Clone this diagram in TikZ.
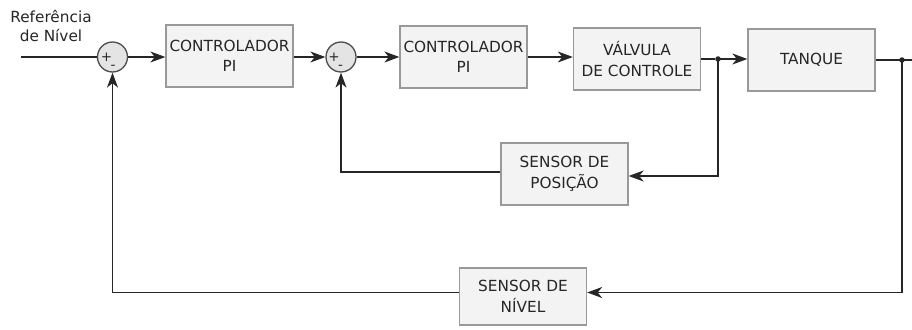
\documentclass[tikz,border=0pt]{standalone}
\usepackage{fontspec}
\setmainfont{DejaVu Sans}
\usetikzlibrary{arrows.meta}
\definecolor{boxfill}{HTML}{F3F3F3}
\definecolor{boxline}{HTML}{999999}
\definecolor{txt}{HTML}{262626}
\definecolor{ln}{HTML}{262626}
\definecolor{sumfill}{HTML}{E4E4E4}
\definecolor{sumline}{HTML}{4D4D4D}
\begin{document}
\begin{tikzpicture}[x=1pt,y=-1pt,
 blk/.style={draw=boxline,fill=boxfill,line width=1.3pt,minimum width=127pt,minimum height=62pt,inner sep=0pt,align=center,text=txt,font=\fontsize{15.3}{20.5}\selectfont},
 sumn/.style={circle,draw=sumline,fill=sumfill,minimum size=30pt,inner sep=0pt,line width=1.3pt},
 sign/.style={text=txt,font=\fontsize{13.5}{13.5}\selectfont,inner sep=0pt},
 wire/.style={draw=ln,line width=1.3pt},
 arr/.style={wire,-{Stealth[length=15pt,width=11pt,inset=4.5pt]}},
 dotn/.style={circle,fill=ln,minimum size=5.5pt,inner sep=0pt}]
\useasboundingbox (0,0) rectangle (912,329);
\node[text=txt,align=center,font=\fontsize{15.3}{19.5}\selectfont] (ref) at (51,26) {Referência\\de Nível};
\node[sumn] (s1) at (112.5,57) {};
\node[sign] at ([shift={(-6,0)}]s1.center) {+};
\node[sign] at ([shift={(0.5,10)}]s1.center) {-};
\node[blk] (c1) at (229.5,56) {CONTROLADOR\\PI};
\node[sumn] (s2) at (341,57) {};
\node[sign] at ([shift={(-7,0)}]s2.center) {+};
\node[sign] at ([shift={(-0.5,10)}]s2.center) {-};
\node[blk] (c2) at (463.5,57) {CONTROLADOR\\PI};
\node[blk] (v) at (637,59) {VÁLVULA\\DE CONTROLE};
\node[blk] (t) at (811.5,60) {TANQUE};
\node[blk] (sp) at (564.5,174) {SENSOR DE\\POSIÇÃO};
\node[blk,minimum height=57pt] (sn) at (523,296.5) {SENSOR DE\\NÍVEL};
\node[dotn] (j1) at (718,59) {};
\node[dotn] (j2) at (902,60) {};
\coordinate (in) at (21,57);
\coordinate (out) at (912,60);
\draw[wire] (in) -- (s1.west);
\draw[arr] (s1.east) -- (s1.east -| c1.west);
\draw[arr] (c1.east |- s2.west) -- (s2.west);
\draw[arr] (s2.east) -- (s2.east -| c2.west);
\draw[arr] (c2.east) -- (c2.east -| v.west);
\draw[wire] (v.east) -- (j1);
\draw[arr] (j1.center) -- (j1.center -| t.west);
\draw[wire] (t.east) -- (out);
\draw[arr] (j1.center) |- ([yshift=-2pt]sp.east);
\draw[arr] ([yshift=2pt]sp.west) -| (s2.south);
\draw[arr] (j2.center) |- ([yshift=4pt]sn.east);
\draw[arr] ([yshift=4pt]sn.west) -| (s1.south);
\end{tikzpicture}
\end{document}
